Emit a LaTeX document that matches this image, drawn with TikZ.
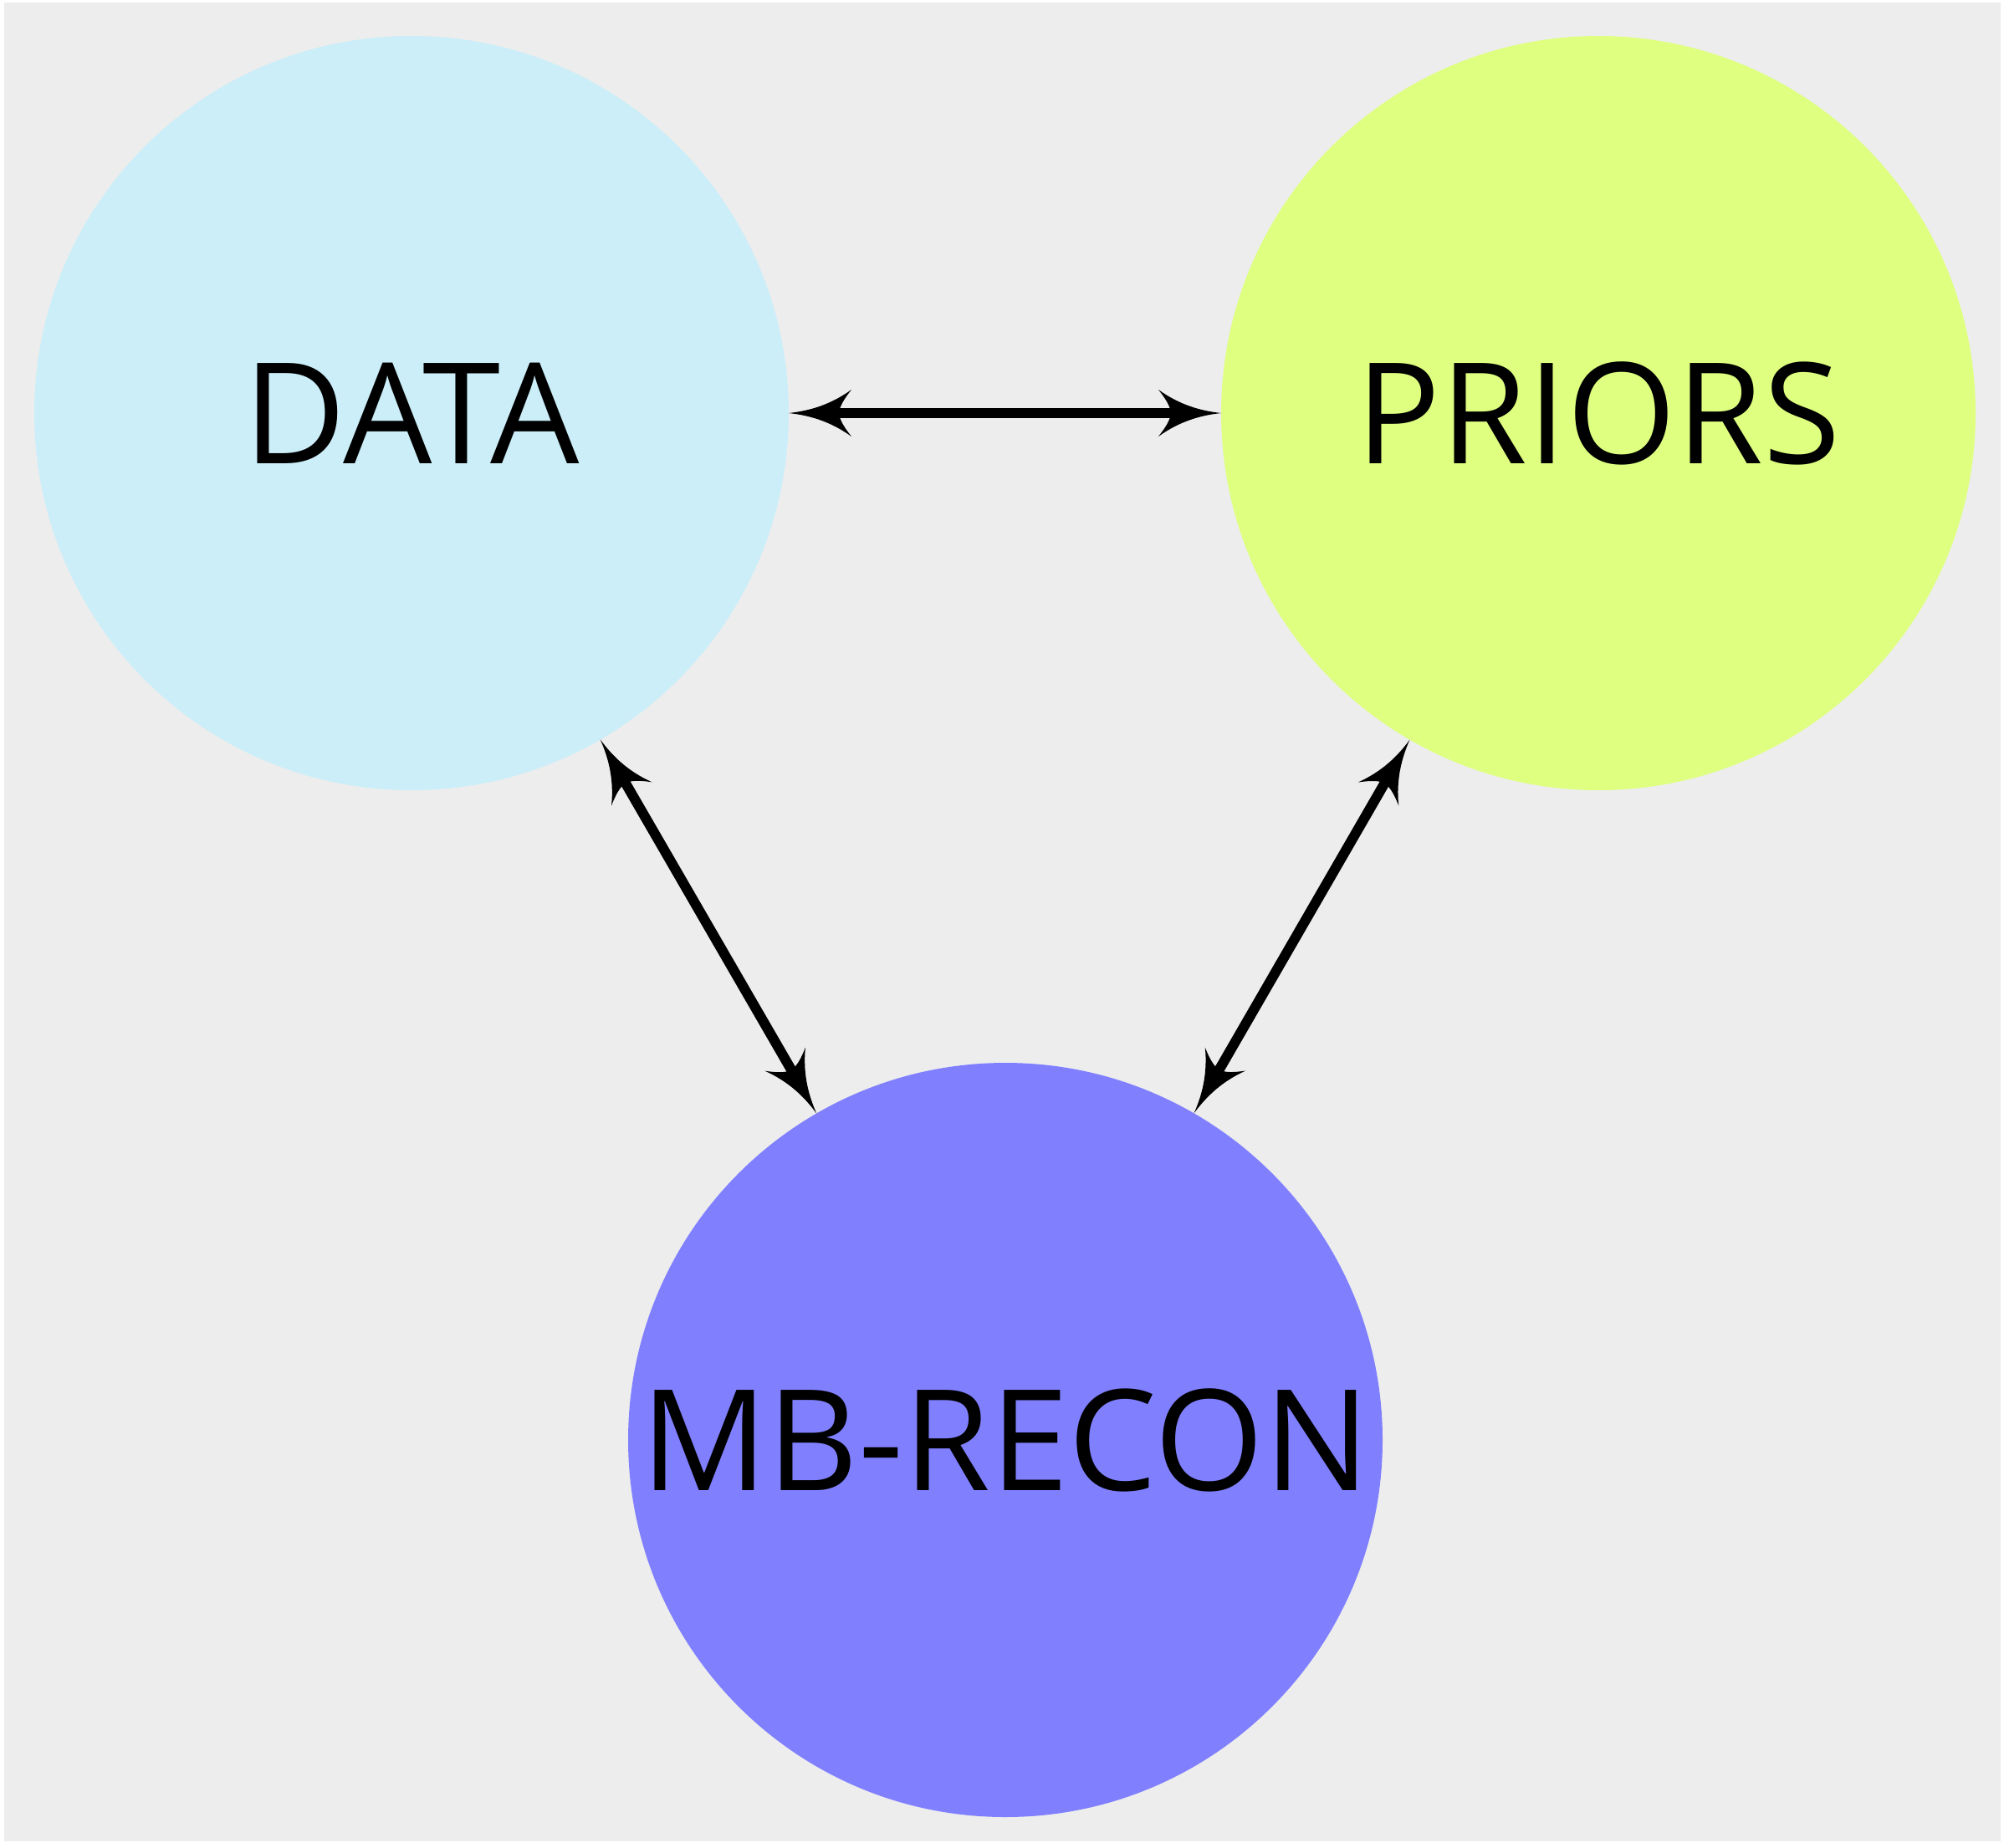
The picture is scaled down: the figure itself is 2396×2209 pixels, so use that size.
\documentclass[tikz,border=0pt]{standalone}
\usepackage{fontspec}
\setmainfont{Open Sans}
\usetikzlibrary{arrows.meta}
\definecolor{bgc}{HTML}{EDEDED}
\definecolor{datac}{HTML}{CBEEF9}
\definecolor{priorc}{HTML}{DFFF80}
\definecolor{mbc}{HTML}{8080FF}
\pgfdeclarearrow{
  name = CurvedHead,
  setup code = {
    \pgfarrowssettipend{0pt}
    \pgfarrowssetbackend{-22.5pt}
    \pgfarrowssetlineend{-17pt}
    \pgfarrowshullpoint{0pt}{0pt}
    \pgfarrowshullpoint{-22.5pt}{8.4pt}
    \pgfarrowshullpoint{-22.5pt}{-8.4pt}
  },
  drawing code = {
    \pgfpathmoveto{\pgfpoint{0pt}{0pt}}
    \pgfpathcurveto{\pgfpoint{-7.5pt}{0.8pt}}{\pgfpoint{-15pt}{3pt}}{\pgfpoint{-22.5pt}{8.4pt}}
    \pgfpathcurveto{\pgfpoint{-19.8pt}{5pt}}{\pgfpoint{-18.3pt}{2.5pt}}{\pgfpoint{-18pt}{0pt}}
    \pgfpathcurveto{\pgfpoint{-18.3pt}{-2.5pt}}{\pgfpoint{-19.8pt}{-5pt}}{\pgfpoint{-22.5pt}{-8.4pt}}
    \pgfpathcurveto{\pgfpoint{-15pt}{-3pt}}{\pgfpoint{-7.5pt}{-0.8pt}}{\pgfpoint{0pt}{0pt}}
    \pgfpathclose
    \pgfusepathqfill
  }
}
\tikzset{
  bubble/.style={circle, minimum size=270.6pt, inner sep=0pt, outer sep=0pt,
    font=\fontsize{50.4}{60}\selectfont, text=black},
  link/.style={line width=3.6pt, {CurvedHead}-{CurvedHead}}
}
\begin{document}
\begin{tikzpicture}[x=0.3pt,y=-0.3pt]
\useasboundingbox (0,0) rectangle (2396,2209);
\fill[bgc] (5,3) rectangle (2392,2202);
\node[bubble, fill=datac] (data) at (492,494) {DATA};
\node[bubble, fill=priorc] (priors) at (1911,494) {PRIORS};
\node[bubble, fill=mbc] (mb) at (1202,1722) {MB-RECON};
\draw[link] (data) -- (priors);
\draw[link] (data) -- (mb);
\draw[link] (priors) -- (mb);
\end{tikzpicture}
\end{document}
